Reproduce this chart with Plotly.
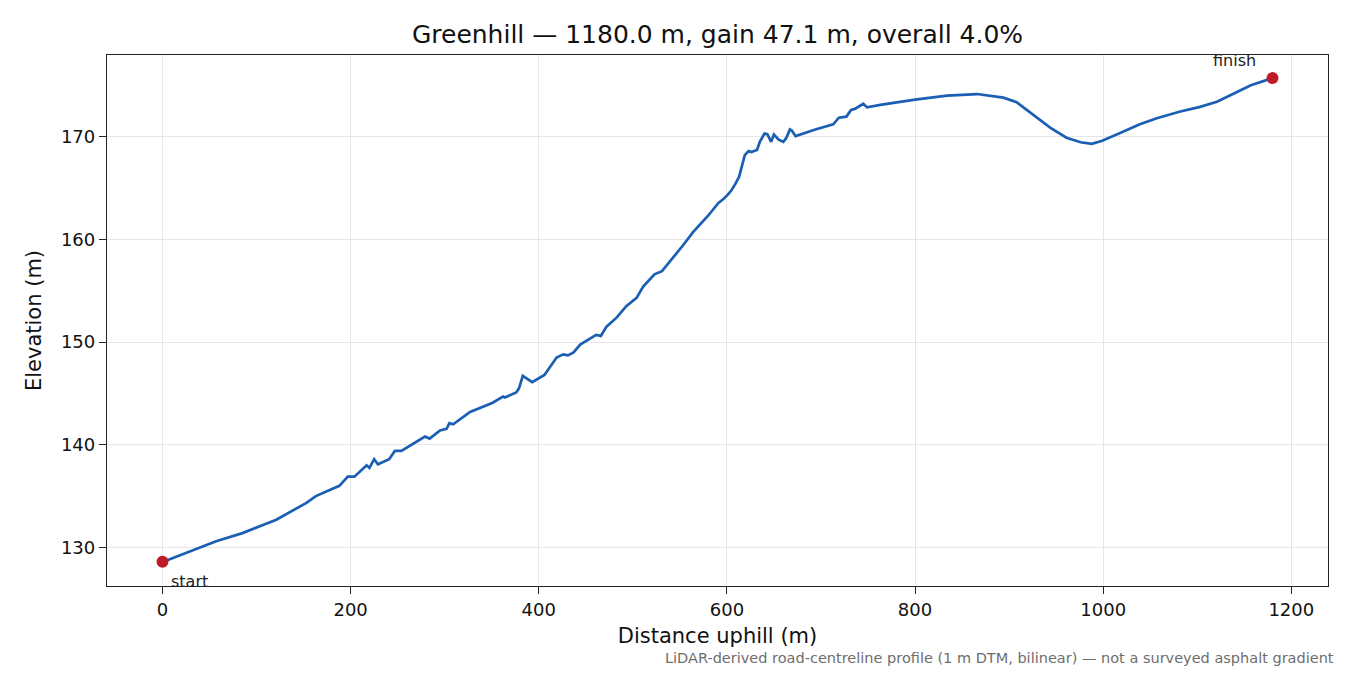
import plotly.graph_objects as go

# road profile
distance_m = [0, 5, 57, 85, 121, 153, 163, 188, 197, 204, 217, 220, 225, 229,
              241, 247, 254, 279, 284, 295, 302, 305, 309, 327, 351, 362, 364,
              376, 379, 383, 393, 406, 419, 426, 431, 437, 444, 461, 466, 472,
              483, 490, 493, 504, 511, 515, 518, 523, 531, 543, 548, 554, 564,
              571, 580, 591, 596, 601, 605, 609, 613, 619, 623, 626, 632, 635,
              640, 643, 647, 650, 655, 660, 663, 667, 669, 673, 687, 694, 713,
              719, 727, 732, 736, 745, 749, 763, 800, 834, 866, 894, 908, 926,
              944, 961, 976, 988, 999, 1018, 1039, 1057, 1082, 1103, 1121, 1139,
              1157, 1180]
elevation_m = [128.6, 128.75, 130.6, 131.4, 132.7, 134.35, 135.0, 136.0, 136.9,
               136.9, 138.0, 137.75, 138.6, 138.1, 138.6, 139.4, 139.4, 140.8,
               140.6, 141.4, 141.55, 142.1, 142.0, 143.2, 144.1, 144.7, 144.6,
               145.1, 145.5, 146.7, 146.1, 146.8, 148.5, 148.8, 148.7, 149.0,
               149.75, 150.7, 150.6, 151.5, 152.4, 153.2, 153.5, 154.3, 155.4,
               155.8, 156.1, 156.6, 156.9, 158.2, 158.8, 159.5, 160.7, 161.4,
               162.3, 163.55, 163.9, 164.35, 164.8, 165.4, 166.1, 168.2, 168.6,
               168.5, 168.7, 169.5, 170.3, 170.25, 169.5, 170.2, 169.7, 169.5,
               169.85, 170.7, 170.6, 170.05, 170.5, 170.7, 171.2, 171.85, 171.95,
               172.6, 172.7, 173.2, 172.85, 173.1, 173.6, 174.0, 174.15, 173.8,
               173.35, 172.1, 170.85, 169.9, 169.45, 169.3, 169.6, 170.35, 171.2,
               171.8, 172.45, 172.9, 173.4, 174.2, 175.0, 175.7]

end_labels = ["start", "finish"]
title_text = "Greenhill — 1180.0 m, gain 47.1 m, overall 4.0%"
note_text = ("LiDAR-derived road-centreline profile (1 m DTM, bilinear) — "
             "not a surveyed asphalt gradient")

font = "DejaVu Sans"
blue = "#1a5fb4"
red = "#c01c28"

fig = go.Figure()
fig.add_trace(go.Scatter(x=distance_m, y=elevation_m, mode="lines",
                         line=dict(color=blue, width=2.7), hoverinfo="skip"))
fig.add_trace(go.Scatter(x=[distance_m[0], distance_m[-1]],
                         y=[elevation_m[0], elevation_m[-1]], mode="markers",
                         marker=dict(color=red, size=12)))

fig.add_annotation(x=distance_m[0], y=elevation_m[0], text=end_labels[0],
                   showarrow=False, xanchor="left", yanchor="middle",
                   xshift=6, yshift=-20, font=dict(size=16, color="#222"))
fig.add_annotation(x=distance_m[-1], y=elevation_m[-1], text=end_labels[1],
                   showarrow=False, xanchor="right", yanchor="middle",
                   xshift=-15, yshift=18, font=dict(size=16, color="#222"))
fig.add_annotation(xref="paper", yref="paper", x=1.0066, y=-0.136,
                   text=note_text, showarrow=False, xanchor="right",
                   yanchor="middle", font=dict(size=14.5, color="#6e6e6e"))

axis_common = dict(showline=True, linecolor="#222", linewidth=1.3, mirror=True,
                   ticks="outside", ticklen=7, tickwidth=1.3, tickcolor="#222",
                   showgrid=True, gridcolor="#e6e6e6", gridwidth=1.2,
                   zeroline=False, tickfont=dict(size=18, color="#111"))

fig.update_xaxes(range=[-59, 1239], tickvals=[0, 200, 400, 600, 800, 1000, 1200],
                 title=dict(text="Distance uphill (m)", font=dict(size=21),
                            standoff=9), **axis_common)
fig.update_yaxes(range=[126.25, 177.95], tickvals=[130, 140, 150, 160, 170],
                 title=dict(text="Elevation (m)", font=dict(size=21),
                            standoff=13), **axis_common)

# page body adds an 8 px margin, so the figure is a bit smaller than the window
fig.update_layout(
    width=1334, height=659,
    margin=dict(l=99, r=14, t=47, b=81),
    paper_bgcolor="white", plot_bgcolor="white",
    font=dict(family=font, color="#111"),
    showlegend=False,
    title=dict(text=title_text, xref="paper", x=0.5, xanchor="center",
               y=0.9605, yanchor="middle", font=dict(size=25)),
)

fig.write_html("out.html")
